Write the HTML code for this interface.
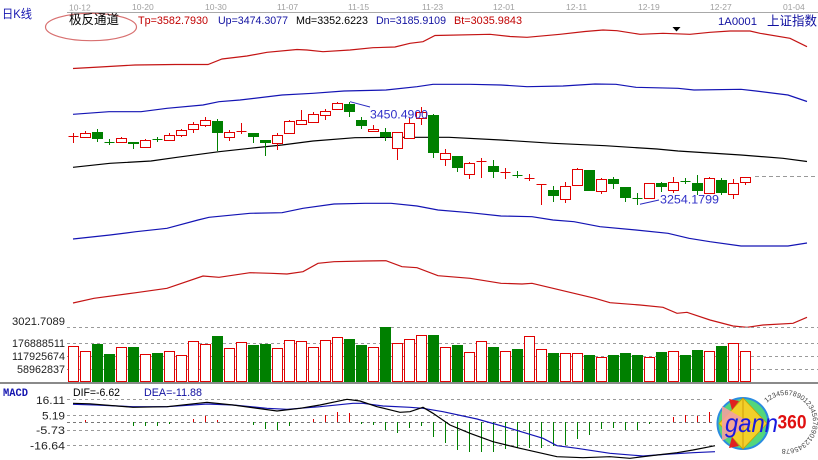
<!DOCTYPE html>
<html><head><meta charset="utf-8"><style>
html,body{margin:0;padding:0;background:#fff;}
svg{display:block;}
text{font-family:"Liberation Sans","Noto Sans CJK SC",sans-serif;}
.mono{font-family:"Liberation Mono","Noto Sans CJK SC",monospace;}
</style></head><body>
<svg width="818" height="460" viewBox="0 0 818 460" xmlns="http://www.w3.org/2000/svg">
<rect width="818" height="460" fill="#fff"/>
<!-- top axis -->
<line x1="67" y1="12.5" x2="818" y2="12.5" stroke="#a8a8a8" stroke-width="1"/>
<g fill="#a0a0a0" font-size="8.5">
<text x="69" y="10.5">10-12</text>
<text x="132" y="10">10-20</text>
<text x="205" y="10">10-30</text>
<text x="277" y="10">11-07</text>
<text x="348" y="10">11-15</text>
<text x="422" y="10">11-23</text>
<text x="493" y="10">12-01</text>
<text x="566" y="10">12-11</text>
<text x="638" y="10">12-19</text>
<text x="710" y="10">12-27</text>
<text x="783" y="10">01-04</text>
</g>
<text x="2" y="18" font-size="12" fill="#1515b0" textLength="30" lengthAdjust="spacingAndGlyphs">日K线</text>
<ellipse cx="91" cy="27" rx="45.5" ry="13.7" fill="none" stroke="#d87070" stroke-width="1.2"/>
<text x="69" y="24" font-size="13" fill="#000" textLength="50" lengthAdjust="spacingAndGlyphs">极反通道</text>
<g font-size="11">
<text x="138" y="24" fill="#c00000" textLength="70" lengthAdjust="spacingAndGlyphs">Tp=3582.7930</text>
<text x="218" y="24" fill="#1010a0" textLength="70" lengthAdjust="spacingAndGlyphs">Up=3474.3077</text>
<text x="296" y="24" fill="#000" textLength="72" lengthAdjust="spacingAndGlyphs">Md=3352.6223</text>
<text x="376" y="24" fill="#1010a0" textLength="70" lengthAdjust="spacingAndGlyphs">Dn=3185.9109</text>
<text x="454" y="24" fill="#c00000" textLength="68" lengthAdjust="spacingAndGlyphs">Bt=3035.9843</text>
<text x="718" y="25" fill="#1010a0" textLength="39" lengthAdjust="spacingAndGlyphs">1A0001</text>
</g>
<text x="767" y="25.5" font-size="13" fill="#1010a0" textLength="50" lengthAdjust="spacingAndGlyphs">上证指数</text>
<polygon points="672.5,27 680.5,27 676.5,31.5" fill="#000"/>

<!-- bands -->
<g fill="none" stroke-width="1.2">
<polyline stroke="#c41414" points="73,68.5 100,67 135,65 175,64.5 208,64.5 222,59 247,56 267,52.3 297,49.5 307,50 323,51.7 350,50 373,47.7 395,47 410,43.3 423,41.7 435,35.5 490,34.3 510,36.5 527,37.3 560,34.3 585,31.5 603,30 617,30.7 640,34.3 663,33.3 690,34.3 710,32.3 730,31 750,31 760,33.3 790,38.3 807,46.7"/>
<polyline stroke="#1414b4" points="73,114.3 109,111.7 141,111.7 167,108.3 203,105 219,101.7 240,100 282,95 313,93.3 344,91 386,90 417,86.7 433,84.3 470,84.3 501,85 527,86.7 563,86 595,84 616,84.3 636,87.3 678,88.3 694,90 741,89.3 756,91 788,95 807,101.5"/>
<polyline stroke="#000" points="73,167.3 110,163.3 151,161 177,157.3 219,151.7 250,148.3 282,145 313,141 355,137.7 397,137.3 449,137.3 501,140 553,143.3 605,145.7 657,149 678,151 741,155 783,158.3 807,161.5"/>
<polyline stroke="#1414b4" points="73,239 110,235 136,231.7 167,228.3 198,220 209,217.3 250,213.3 282,212.7 303,208.3 334,204 365,203.3 391,203.3 417,206 438,210 470,212.7 501,216 532,216.7 553,220 574,221.7 600,226.7 636,230 668,233.3 689,238.3 710,241.7 741,246 788,246 807,243"/>
<polyline stroke="#c41414" points="73,303 94,298.3 136,292.7 167,288.3 203,276 219,277.3 250,272.7 271,273.3 287,274 303,271.7 318,263.3 334,261.7 365,261 386,260.7 402,266.7 417,267.7 438,275.7 470,278.3 501,283.3 522,284 532,283.3 553,288.3 595,298.3 610,302.7 640,305 663,307.3 677,313.3 687,312.3 710,320 733,326 747,327.3 763,325 793,323.3 807,317.3"/>
</g>
<line x1="755" y1="176.5" x2="818" y2="176.5" stroke="#999" stroke-dasharray="4,3"/>

<!-- candles -->
<g shape-rendering="crispEdges">
<path fill="none" stroke="#e00000" d="M73.5 133V143 M85.5 131V138 M121.5 137V143 M145.5 139V148 M169.5 133V141 M181.5 129V137 M193.5 122V133 M205.5 117V127 M229.5 130V141 M241.5 123V134 M277.5 133V150 M289.5 120V134 M301.5 110V125 M313.5 112V123 M325.5 109V120 M337.5 102V110 M373.5 125V132 M397.5 132V160 M409.5 118V139 M421.5 107V125 M445.5 149V166 M469.5 162V179 M481.5 158V178 M505.5 168V179 M529.5 174V181 M541.5 184V205 M565.5 182V203 M577.5 168V186 M601.5 178V194 M649.5 183V198 M673.5 177V193 M709.5 177V193 M733.5 179V199 M745.5 177V185 M68.5 136.5H78.5 M236.5 131.5H246.5 M476.5 161.5H486.5 M500.5 172.5H510.5 M524.5 178.5H534.5 M536.5 184.5H546.5"/>
<g fill="#fff" stroke="#e00000">
<rect x="80.5" y="133.5" width="10" height="4"/>
<rect x="116.5" y="138.5" width="10" height="4"/>
<rect x="140.5" y="140.5" width="10" height="7"/>
<rect x="164.5" y="135.5" width="10" height="5"/>
<rect x="176.5" y="130.5" width="10" height="5"/>
<rect x="188.5" y="124.5" width="10" height="5"/>
<rect x="200.5" y="120.5" width="10" height="5"/>
<rect x="224.5" y="132.5" width="10" height="5"/>
<rect x="272.5" y="135.5" width="10" height="8"/>
<rect x="284.5" y="121.5" width="10" height="12"/>
<rect x="296.5" y="120.5" width="10" height="4"/>
<rect x="308.5" y="114.5" width="10" height="8"/>
<rect x="320.5" y="111.5" width="10" height="4"/>
<rect x="332.5" y="103.5" width="10" height="6"/>
<rect x="368.5" y="129.5" width="10" height="2"/>
<rect x="392.5" y="132.5" width="10" height="16"/>
<rect x="404.5" y="123.5" width="10" height="15"/>
<rect x="416.5" y="112.5" width="10" height="6"/>
<rect x="440.5" y="153.5" width="10" height="6"/>
<rect x="464.5" y="163.5" width="10" height="11"/>
<rect x="560.5" y="186.5" width="10" height="13"/>
<rect x="572.5" y="169.5" width="10" height="16"/>
<rect x="596.5" y="179.5" width="10" height="12"/>
<rect x="644.5" y="183.5" width="10" height="15"/>
<rect x="668.5" y="182.5" width="10" height="8"/>
<rect x="704.5" y="178.5" width="10" height="15"/>
<rect x="728.5" y="183.5" width="10" height="11"/>
<rect x="740.5" y="177.5" width="10" height="5"/>
</g>
<path fill="none" stroke="#008000" d="M97.5 129V142 M109.5 139V145 M133.5 142V149 M157.5 137V142 M217.5 119V151 M253.5 133V143 M265.5 140V156 M349.5 102V117 M361.5 117V129 M385.5 128V141 M433.5 114V158 M457.5 156V172 M493.5 160V178 M517.5 171V178 M553.5 186V202 M589.5 170V191 M613.5 177V189 M625.5 187V202 M637.5 193V205 M661.5 182V192 M685.5 178V184 M697.5 175V195 M721.5 178V195 M104.5 142.5H114.5 M152.5 139.5H162.5 M512.5 175.5H522.5 M632.5 198.5H642.5 M680.5 181.5H690.5"/>
<g fill="#008000">
<rect x="92" y="132" width="11" height="7"/>
<rect x="128" y="142" width="11" height="2"/>
<rect x="212" y="121" width="11" height="12"/>
<rect x="248" y="133" width="11" height="4"/>
<rect x="260" y="140" width="11" height="3"/>
<rect x="344" y="104" width="11" height="8"/>
<rect x="356" y="120" width="11" height="6"/>
<rect x="380" y="132" width="11" height="5"/>
<rect x="428" y="115" width="11" height="38"/>
<rect x="452" y="156" width="11" height="12"/>
<rect x="488" y="166" width="11" height="6"/>
<rect x="548" y="190" width="11" height="6"/>
<rect x="584" y="170" width="11" height="21"/>
<rect x="608" y="179" width="11" height="5"/>
<rect x="620" y="187" width="11" height="11"/>
<rect x="656" y="183" width="11" height="4"/>
<rect x="692" y="183" width="11" height="8"/>
<rect x="716" y="180" width="11" height="13"/>
</g>
</g>
<!-- annotations -->
<g stroke="#2a2ac0" stroke-width="1" fill="none">
<line x1="350" y1="101.7" x2="370" y2="107"/>
<line x1="640" y1="204.3" x2="659" y2="200"/>
</g>
<text x="370" y="118.5" font-size="12" fill="#3030c8" textLength="58" lengthAdjust="spacingAndGlyphs">3450.4900</text>
<text x="660" y="203.5" font-size="12" fill="#3030c8" textLength="59" lengthAdjust="spacingAndGlyphs">3254.1799</text>

<!-- volume -->
<g stroke="#9a9a9a" stroke-dasharray="3,3" stroke-width="1">
<line x1="67" y1="327.5" x2="818" y2="327.5"/>
<line x1="67" y1="343.5" x2="818" y2="343.5"/>
<line x1="67" y1="356.5" x2="818" y2="356.5"/>
<line x1="67" y1="369.5" x2="818" y2="369.5"/>
</g>
<g class="mono" font-size="11" fill="#222" text-anchor="end">
<text x="65" y="325" textLength="53" lengthAdjust="spacingAndGlyphs">3021.7089</text>
<text x="65" y="347" textLength="53" lengthAdjust="spacingAndGlyphs">176888511</text>
<text x="65" y="360" textLength="53" lengthAdjust="spacingAndGlyphs">117925674</text>
<text x="65" y="373" textLength="48" lengthAdjust="spacingAndGlyphs">58962837</text>
</g>
<g shape-rendering="crispEdges">
<g fill="#fff" stroke="#e00000">
<rect x="68.5" y="346.5" width="10" height="35"/>
<rect x="80.5" y="351.5" width="10" height="30"/>
<rect x="116.5" y="347.5" width="10" height="34"/>
<rect x="140.5" y="354.5" width="10" height="27"/>
<rect x="164.5" y="351.5" width="10" height="30"/>
<rect x="176.5" y="355.5" width="10" height="26"/>
<rect x="188.5" y="341.5" width="10" height="40"/>
<rect x="200.5" y="344.5" width="10" height="37"/>
<rect x="224.5" y="348.5" width="10" height="33"/>
<rect x="236.5" y="342.5" width="10" height="39"/>
<rect x="272.5" y="348.5" width="10" height="33"/>
<rect x="284.5" y="340.5" width="10" height="41"/>
<rect x="296.5" y="341.5" width="10" height="40"/>
<rect x="308.5" y="347.5" width="10" height="34"/>
<rect x="320.5" y="340.5" width="10" height="41"/>
<rect x="332.5" y="337.5" width="10" height="44"/>
<rect x="368.5" y="347.5" width="10" height="34"/>
<rect x="392.5" y="343.5" width="10" height="38"/>
<rect x="404.5" y="339.5" width="10" height="42"/>
<rect x="416.5" y="335.5" width="10" height="46"/>
<rect x="440.5" y="347.5" width="10" height="34"/>
<rect x="464.5" y="352.5" width="10" height="29"/>
<rect x="476.5" y="341.5" width="10" height="40"/>
<rect x="500.5" y="351.5" width="10" height="30"/>
<rect x="524.5" y="336.5" width="10" height="45"/>
<rect x="536.5" y="349.5" width="10" height="32"/>
<rect x="560.5" y="353.5" width="10" height="28"/>
<rect x="572.5" y="353.5" width="10" height="28"/>
<rect x="596.5" y="357.5" width="10" height="24"/>
<rect x="644.5" y="357.5" width="10" height="24"/>
<rect x="668.5" y="351.5" width="10" height="30"/>
<rect x="704.5" y="351.5" width="10" height="30"/>
<rect x="728.5" y="343.5" width="10" height="38"/>
<rect x="740.5" y="351.5" width="10" height="30"/>
</g>
<g fill="#008000">
<rect x="92" y="344" width="11" height="38"/>
<rect x="104" y="354" width="11" height="28"/>
<rect x="128" y="347" width="11" height="35"/>
<rect x="152" y="353" width="11" height="29"/>
<rect x="212" y="336" width="11" height="46"/>
<rect x="248" y="345" width="11" height="37"/>
<rect x="260" y="344" width="11" height="38"/>
<rect x="344" y="339" width="11" height="43"/>
<rect x="356" y="345" width="11" height="37"/>
<rect x="380" y="327" width="11" height="55"/>
<rect x="428" y="335" width="11" height="47"/>
<rect x="452" y="345" width="11" height="37"/>
<rect x="488" y="347" width="11" height="35"/>
<rect x="512" y="349" width="11" height="33"/>
<rect x="548" y="353" width="11" height="29"/>
<rect x="584" y="355" width="11" height="27"/>
<rect x="608" y="355" width="11" height="27"/>
<rect x="620" y="353" width="11" height="29"/>
<rect x="632" y="355" width="11" height="27"/>
<rect x="656" y="352" width="11" height="30"/>
<rect x="680" y="355" width="11" height="27"/>
<rect x="692" y="350" width="11" height="32"/>
<rect x="716" y="346" width="11" height="36"/>
</g>
</g>
<rect x="0" y="382" width="818" height="2" fill="#8a8a8a"/>

<!-- MACD -->
<text class="mono" x="3" y="396" font-size="11" font-weight="bold" fill="#1515b0" textLength="25" lengthAdjust="spacingAndGlyphs">MACD</text>
<text x="73" y="396" font-size="11" fill="#000" textLength="47" lengthAdjust="spacingAndGlyphs">DIF=-6.62</text>
<text x="144" y="396" font-size="11" fill="#1010a0" textLength="58" lengthAdjust="spacingAndGlyphs">DEA=-11.88</text>
<g stroke="#9a9a9a" stroke-dasharray="3,3" stroke-width="1">
<line x1="67" y1="399.5" x2="715" y2="399.5"/>
<line x1="67" y1="415.5" x2="715" y2="415.5"/>
<line x1="67" y1="430.5" x2="715" y2="430.5"/>
<line x1="67" y1="445.5" x2="715" y2="445.5"/>
</g>
<line x1="67" y1="422.5" x2="715" y2="422.5" stroke="#777" stroke-dasharray="3,3"/>
<g class="mono" font-size="11" fill="#222" text-anchor="end">
<text x="65" y="404" textLength="29" lengthAdjust="spacingAndGlyphs">16.11</text>
<text x="65" y="419.5" textLength="23" lengthAdjust="spacingAndGlyphs">5.19</text>
<text x="65" y="434" textLength="29" lengthAdjust="spacingAndGlyphs">-5.73</text>
<text x="65" y="449.5" textLength="35" lengthAdjust="spacingAndGlyphs">-16.64</text>
</g>
<g shape-rendering="crispEdges">
<path fill="none" stroke="#e00000" d="M85.5 422V420 M193.5 422V419 M205.5 422V416 M217.5 422V420 M313.5 422V419 M325.5 422V415 M337.5 422V412 M349.5 422V413 M673.5 422V417 M685.5 422V415 M697.5 422V416 M709.5 422V412"/>
<path fill="none" stroke="#008000" d="M133.5 422V426 M145.5 422V426 M157.5 422V426 M169.5 422V424 M253.5 422V425 M265.5 422V429 M277.5 422V430 M289.5 422V426 M361.5 422V424 M373.5 422V425 M385.5 422V430 M397.5 422V433 M409.5 422V428 M421.5 422V426 M433.5 422V437 M445.5 422V443 M457.5 422V450 M469.5 422V452 M481.5 422V452 M493.5 422V452 M505.5 422V449 M517.5 422V448 M529.5 422V448 M541.5 422V448 M553.5 422V446 M565.5 422V445 M577.5 422V439 M589.5 422V435 M601.5 422V429 M613.5 422V428 M625.5 422V430 M637.5 422V430 M649.5 422V424"/>
</g>
<g fill="none" stroke-width="1.2">
<polyline stroke="#1414b4" points="73,404.3 97,405 133,406.7 167,406.7 207,404 233,405 267,408.3 287,409.3 320,406.7 353,403.3 363,403.3 383,406 410,407.3 423,408.3 443,411.7 477,419 510,428.3 543,438.3 557,445.7 577,448.3 610,453.3 643,456 670,454 693,452.7 715,451.7"/>
<polyline stroke="#000" points="73,403.3 90,403.8 133,407.3 167,406.7 207,402.3 233,405 277,411 300,408.3 320,405 347,399.3 360,401 377,406.7 400,412.3 410,411.7 423,407.3 433,413.3 450,425 470,433.3 493,441.7 520,448.3 557,456.7 583,457.7 610,456.7 630,458.3 657,455 677,452.7 693,450 710,446.7 715,445.7"/>
</g>

<!-- logo -->
<defs><path id="ring" d="M766.9 402.9 A27 27 0 1 1 772.5 445.4"/></defs>
<text font-size="7" fill="#444"><textPath href="#ring">1234567890123456789012345678</textPath></text>
<circle cx="743" cy="423.5" r="25.5" fill="#52d67c" stroke="#2a8ce0" stroke-width="2"/>
<polygon points="743,398 767,423.5 743,449 719,423.5" fill="#f2d02a" stroke="#c8a000" stroke-width="0.8"/>
<polygon points="729,399 739,401 732,410" fill="#e02020"/>
<polygon points="729,448 739,446 732,437" fill="#e02020"/>
<polygon points="722,406 752,423.5 722,441" fill="#f2a0a0" opacity="0.9"/>
<line x1="743" y1="398" x2="743" y2="449" stroke="#c89000" stroke-width="0.8"/>
<text x="725" y="432" font-family="'Liberation Serif',serif" font-style="italic" font-size="26" fill="#1a1ae0" textLength="53" lengthAdjust="spacingAndGlyphs">gann</text>
<text x="777.5" y="428.5" font-size="19" font-weight="bold" fill="#e01010" textLength="29" lengthAdjust="spacingAndGlyphs">360</text>
</svg>
</body></html>
